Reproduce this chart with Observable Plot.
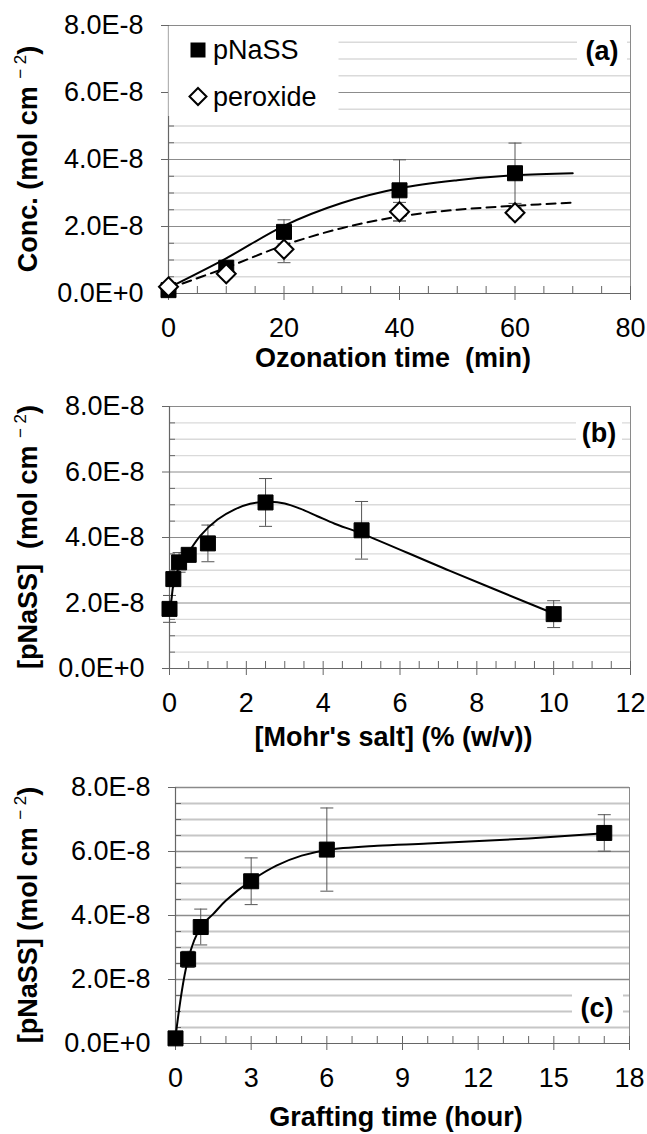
<!DOCTYPE html>
<html><head><meta charset="utf-8">
<script src="https://cdn.jsdelivr.net/npm/d3@7"></script>
<script src="https://cdn.jsdelivr.net/npm/@observablehq/plot@0.6"></script>
<style>
body{margin:0;background:#fff;}
#wrap{position:relative;width:647px;height:1134px;overflow:hidden;background:#fff}
#wrap svg{position:absolute;left:0;display:block}
</style></head><body><div id="wrap"></div>
<script>
// ---- shared tick values / labels (concentration in units of 1E-8 mol cm^-2) ----
const yTicks = [0, 2, 4, 6, 8];
const yTickLabels = ["0.0E+0", "2.0E-8", "4.0E-8", "6.0E-8", "8.0E-8"];
const yMinor = [0.5, 1, 1.5, 2.5, 3, 3.5, 4.5, 5, 5.5, 6.5, 7, 7.5];

// ---- panel (a): ozonation time ----
const aXTicks = [0, 20, 40, 60, 80];
const aXMinor = [5, 10, 15, 25, 30, 35, 45, 50, 55, 65, 70, 75];
const aTime = [0, 10, 20, 40, 60];
const aPnass = [0.1, 0.77, 1.84, 3.08, 3.59];
const aPnassErr = [0.1, 0.2, 0.36, 0.91, 0.9];
const aPerox = [0.2, 0.59, 1.32, 2.44, 2.41];
const aPeroxErr = [0.1, 0.12, 0.4, 0.28, 0.15];
const aFitX = [0, 10, 20, 30, 40, 50, 60, 70];
const aFitPnass = [0.17, 1.05, 2.02, 2.7, 3.14, 3.38, 3.53, 3.59];
const aFitPerox = [0.15, 0.77, 1.44, 1.95, 2.3, 2.5, 2.62, 2.71];

// ---- panel (b): Mohr's salt ----
const bXTicks = [0, 2, 4, 6, 8, 10, 12];
const bXMinor = [0.5, 1, 1.5, 2.5, 3, 3.5, 4.5, 5, 5.5, 6.5, 7, 7.5, 8.5, 9, 9.5, 10.5, 11, 11.5];
const bConc = [0, 0.1, 0.25, 0.5, 1, 2.5, 5, 10];
const bPnass = [1.82, 2.73, 3.24, 3.47, 3.82, 5.07, 4.22, 1.66];
const bPnassErr = [0.41, 0.15, 0.3, 0.1, 0.56, 0.73, 0.88, 0.41];
const bFitX = [0, 0.05, 0.1, 0.25, 0.5, 0.8, 1.25, 1.7, 2.1, 2.6, 3.0, 3.4, 3.85, 4.3, 5, 7.3, 10];
const bFitY = [1.8, 2.1, 2.55, 3.1, 3.55, 4.05, 4.55, 4.86, 5.03, 5.09, 5.04, 4.88, 4.65, 4.42, 4.12, 2.98, 1.68];

// ---- panel (c): grafting time ----
const cXTicks = [0, 3, 6, 9, 12, 15, 18];
const cXMinor = [1, 2, 4, 5, 7, 8, 10, 11, 13, 14, 16, 17];
const cTime = [0, 0.5, 1, 3, 6, 17];
const cPnass = [0.16, 2.63, 3.64, 5.07, 6.06, 6.58];
const cPnassErr = [0.05, 0.25, 0.56, 0.73, 1.3, 0.57];
const cFitX = [0, 0.5, 1, 1.5, 2, 3, 4, 5, 6, 8, 10, 14, 17];
const cFitY = [0.2, 2.63, 3.64, 4.05, 4.47, 5.09, 5.56, 5.87, 6.05, 6.18, 6.25, 6.41, 6.57];

// ---- symbols ----
const rOf = s => Math.sqrt(s / Math.PI);
const squareSym = {draw(c, s) { const r = rOf(s); c.moveTo(-r, -r); c.lineTo(r, -r); c.lineTo(r, r); c.lineTo(-r, r); c.closePath(); }};
const diamondSym = {draw(c, s) { const r = rOf(s); c.moveTo(0, -r); c.lineTo(r, 0); c.lineTo(0, r); c.lineTo(-r, 0); c.closePath(); }};
const capSym = {draw(c, s) { const r = rOf(s); c.moveTo(-r, 0); c.lineTo(r, 0); }};

const FONT = "'Liberation Sans', Arial, Helvetica, sans-serif";
const FS = 27;
const rows = (xs, ys, es) => xs.map((x, i) => ({x, y: ys[i], lo: ys[i] - (es ? es[i] : 0), hi: ys[i] + (es ? es[i] : 0)}));

function errorMarks(data) {
  return [
    Plot.ruleX(data, {x: "x", y1: "lo", y2: "hi", stroke: "#555", strokeWidth: 1}),
    Plot.dot(data, {x: "x", y: "lo", symbol: capSym, r: 6.5, stroke: "#555", strokeWidth: 1, fill: "none"}),
    Plot.dot(data, {x: "x", y: "hi", symbol: capSym, r: 6.5, stroke: "#555", strokeWidth: 1, fill: "none"})
  ];
}

function addText(s, x, y, str, opts = {}) {
  return s.append("text").attr("x", x).attr("y", y).attr("dy", "0.35em")
    .attr("text-anchor", opts.anchor || "middle").attr("font-family", FONT)
    .attr("font-size", opts.size || FS).attr("font-weight", opts.bold ? "bold" : "normal")
    .attr("fill", "black").text(str);
}

function panel(o) {
  const W = 647;
  const fw = W - o.ml - o.mr, fh = o.h - o.mt - o.mb;
  const marks = [
    Plot.ruleY(yMinor, {stroke: o.minorColor, strokeWidth: o.minorWidth}),
    Plot.ruleY(yTicks.slice(1), {stroke: o.majorColor, strokeWidth: o.majorWidth}),
    Plot.frame({stroke: "#8a8a8a", strokeWidth: 1}),
    Plot.ruleY([0], {stroke: "#666", strokeWidth: 1.2}),
    Plot.ruleX([o.xDomain[0]], {stroke: "#666", strokeWidth: 1.2}),
    Plot.axisY(yTicks, {tickSize: 7, tickPadding: 18, stroke: "#666", fill: "black", label: null,
      tickFormat: d => yTickLabels[yTicks.indexOf(d)]}),
    Plot.tickY(yMinor, {insetRight: fw - 6, stroke: "#666"}),
    Plot.axisX(o.xTicks, {tickSize: 7, tickPadding: 17, stroke: "#666", fill: "black", label: null, tickFormat: d => String(d)}),
    Plot.tickX(o.xTicks.concat(o.xMinor), {insetTop: fh - 7, stroke: "#666"}),
    ...o.marks
  ];
  const svg = Plot.plot({
    width: W, height: o.h,
    marginLeft: o.ml, marginRight: o.mr, marginTop: o.mt, marginBottom: o.mb,
    x: {domain: o.xDomain, axis: null},
    y: {domain: [0, 8], axis: null},
    style: {fontFamily: FONT, fontSize: FS + "px", color: "black", background: "transparent", overflow: "visible"},
    marks
  });
  svg.style.top = o.top + "px";
  const s = d3.select(svg);
  (o.boxes || []).forEach(b => s.append("rect").attr("x", b[0]).attr("y", b[1]).attr("width", b[2]).attr("height", b[3]).attr("fill", "white"));
  addText(s, o.tag[1], o.tag[2], o.tag[0], {bold: true});
  addText(s, o.ml + fw / 2 - 6, o.xTitleY, o.xTitle, {bold: true});
  const t = s.append("text").attr("transform", `translate(28,${o.mt + fh / 2}) rotate(-90)`).attr("text-anchor", "middle")
    .attr("dy", "0.35em").attr("font-family", FONT).attr("font-size", FS).attr("font-weight", "bold").attr("fill", "black");
  t.append("tspan").text(o.yTitle + " (mol cm\u00a0");
  t.append("tspan").attr("font-size", 17).attr("font-weight", "normal").attr("dy", -11).text("\u2212\u00a02");
  t.append("tspan").attr("dy", 11).text(")");
  return svg;
}

const wrap = document.getElementById("wrap");

// Panel (a)
const aP = rows(aTime, aPnass, aPnassErr);
const aO = rows(aTime, aPerox, aPeroxErr);
const svgA = panel({
  top: 0, h: 373, ml: 168, mr: 17, mt: 25, mb: 80,
  xDomain: [0, 80], xTicks: aXTicks, xMinor: aXMinor,
  minorColor: "#dadada", minorWidth: 1.3, majorColor: "#8c8c8c", majorWidth: 1,
  xTitle: "Ozonation time\u00a0 (min)", xTitleY: 358, yTitle: "Conc.",
  tag: ["(a)", 602, 51], boxes: [[168.5, 26, 170, 90], [577, 30, 50, 40]],
  marks: [
    ...errorMarks(aP), ...errorMarks(aO),
    Plot.line(rows(aFitX, aFitPerox), {x: "x", y: "y", curve: "catmull-rom", stroke: "black", strokeWidth: 2, strokeDasharray: "9,6"}),
    Plot.line(rows(aFitX, aFitPnass), {x: "x", y: "y", curve: "catmull-rom", stroke: "black", strokeWidth: 2}),
    Plot.dot(aP, {x: "x", y: "y", symbol: squareSym, r: 7.5, fill: "black", stroke: "black", strokeWidth: 1}),
    Plot.dot(aO, {x: "x", y: "y", symbol: diamondSym, r: 9.5, fill: "white", stroke: "black", strokeWidth: 2})
  ]
});
wrap.appendChild(svgA);
// legend (a)
{
  const s = d3.select(svgA);
  s.append("path").attr("d", "M190.5,42.5h15v15h-15z").attr("fill", "black");
  addText(s, 213, 50, "pNaSS", {anchor: "start"});
  s.append("path").attr("d", "M198,88l8.5,8.5l-8.5,8.5l-8.5,-8.5z").attr("fill", "white").attr("stroke", "black").attr("stroke-width", 2);
  addText(s, 213, 97, "peroxide", {anchor: "start"});
}

// Panel (b)
const bP = rows(bConc, bPnass, bPnassErr);
const svgB = panel({
  top: 373, h: 374, ml: 169, mr: 17, mt: 33, mb: 79,
  xDomain: [0, 12], xTicks: bXTicks, xMinor: bXMinor,
  minorColor: "#dadada", minorWidth: 1.3, majorColor: "#8c8c8c", majorWidth: 1,
  xTitle: "[Mohr's salt] (% (w/v))", xTitleY: 364, yTitle: "[pNaSS]\u00a0",
  tag: ["(b)", 599, 60], boxes: [[576, 39, 46, 40]],
  marks: [
    ...errorMarks(bP),
    Plot.line(rows(bFitX, bFitY), {x: "x", y: "y", curve: "catmull-rom", stroke: "black", strokeWidth: 2}),
    Plot.dot(bP, {x: "x", y: "y", symbol: squareSym, r: 7.5, fill: "black", stroke: "black", strokeWidth: 1})
  ]
});
wrap.appendChild(svgB);

// Panel (c)
const cP = rows(cTime, cPnass, cPnassErr);
const svgC = panel({
  top: 747, h: 387, ml: 175, mr: 18, mt: 40, mb: 91,
  xDomain: [0, 18], xTicks: cXTicks, xMinor: cXMinor,
  minorColor: "#c6c6c6", minorWidth: 2.2, majorColor: "#8c8c8c", majorWidth: 1.6,
  xTitle: "Grafting time (hour)", xTitleY: 370, yTitle: "[pNaSS]",
  tag: ["(c)", 597, 261], boxes: [[572, 239, 51, 35]],
  marks: [
    ...errorMarks(cP),
    Plot.line(rows(cFitX, cFitY), {x: "x", y: "y", curve: "catmull-rom", stroke: "black", strokeWidth: 2}),
    Plot.dot(cP, {x: "x", y: "y", symbol: squareSym, r: 7.5, fill: "black", stroke: "black", strokeWidth: 1})
  ]
});
wrap.appendChild(svgC);
</script></body></html>
